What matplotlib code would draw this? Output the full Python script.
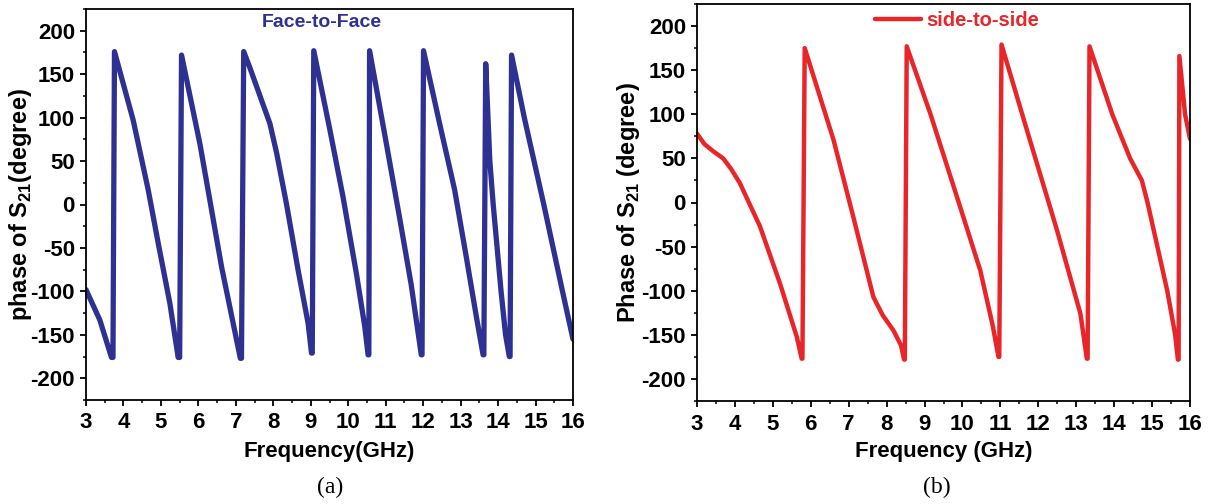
# phase of S21 for the two antenna arrangements: (a) face-to-face, (b) side-to-side
import matplotlib.pyplot as plt
from matplotlib.ticker import MultipleLocator

# (a) Face-to-Face
freq_a = [3.0, 3.37, 3.68, 3.72, 3.76, 4.26, 4.66, 4.93, 5.24, 5.46, 5.50,
          5.55, 6.04, 6.31, 6.62, 6.93, 7.12, 7.15,
          7.21, 7.37, 7.91, 8.09, 8.35, 8.66, 8.93, 9.02, 9.04,
          9.08, 9.51, 9.86, 10.22, 10.44, 10.53, 10.55,
          10.57, 11.01, 11.37, 11.68, 11.95, 11.97,
          12.01, 12.44, 12.84, 13.15, 13.42, 13.60, 13.62,
          13.67, 13.78, 13.87, 14.08, 14.20, 14.30, 14.32,
          14.36, 14.70, 15.22, 15.72, 16.0]
phase_a = [-98, -133, -176, -176, 176, 97, 17, -45, -114, -176, -176,
           172, 70, 4, -72, -137, -177, -177,
           176, 158, 93, 59, 1, -75, -137, -171, -171,
           177, 86, 9, -80, -140, -173, -173,
           177, 72, -15, -92, -173, -173,
           177, 93, 17, -60, -129, -173, -173,
           162, 50, 0, -100, -150, -175, -175,
           172, 100, 0, -100, -155]

# (b) side-to-side
freq_b = [3.0, 3.2, 3.43, 3.69, 3.9, 4.13, 4.66, 5.19, 5.63, 5.76, 5.78,
          5.84, 6.60, 7.12, 7.65, 7.90, 8.18, 8.38, 8.46, 8.48,
          8.53, 9.15, 9.85, 10.47, 10.80, 10.95, 10.97,
          11.03, 11.70, 12.49, 13.11, 13.28, 13.30,
          13.35, 13.95, 14.42, 14.73, 14.88, 15.14, 15.40, 15.61, 15.68, 15.70,
          15.72, 15.87, 16.0]
phase_b = [78, 66, 58, 50, 38, 22, -27, -92, -152, -177, -177,
           175, 71, -16, -107, -128, -145, -162, -178, -178,
           177, 101, 7, -77, -140, -175, -175,
           179, 82, -31, -126, -177, -177,
           177, 100, 50, 25, 0, -50, -100, -150, -178, -178,
           166, 100, 72]

blue = '#2E3192'
red = '#E8262A'

plt.rcParams['font.family'] = ['Liberation Sans', 'DejaVu Sans']
plt.rcParams['font.weight'] = 'bold'
plt.rcParams['axes.labelweight'] = 'bold'
plt.rcParams['axes.unicode_minus'] = False
plt.rcParams['mathtext.fontset'] = 'custom'
plt.rcParams['mathtext.rm'] = 'Liberation Sans:bold'
plt.rcParams['mathtext.bf'] = 'Liberation Sans:bold'

W, H = 1213, 504
fig = plt.figure(figsize=(W / 100, H / 100), dpi=100)
ax1 = fig.add_axes([86 / W, 1 - 400 / H, 487 / W, 391 / H])
ax2 = fig.add_axes([697 / W, 1 - 401 / H, 493 / W, 397 / H])

ax1.plot(freq_a, phase_a, color=blue, lw=3.8, solid_joinstyle='round', solid_capstyle='round')
ax2.plot(freq_b, phase_b, color=red, lw=3.2, solid_joinstyle='round', solid_capstyle='round',
         label='side-to-side')

for ax in (ax1, ax2):
    ax.set_xlim(3, 16)
    ax.set_ylim(-225, 225)
    ax.xaxis.set_major_locator(MultipleLocator(1))
    ax.xaxis.set_minor_locator(MultipleLocator(0.5))
    ax.yaxis.set_major_locator(MultipleLocator(50))
    ax.yaxis.set_minor_locator(MultipleLocator(25))
    ax.tick_params(which='major', direction='out', length=4, width=1.3, labelsize=16, pad=4)
    ax.tick_params(which='minor', direction='out', length=2.5, width=1.1)
    ax.tick_params(axis='x', which='major', pad=5)
    for s in ax.spines.values():
        s.set_linewidth(1.3)

ax1.set_xlabel('Frequency(GHz)', fontsize=16)
ax1.set_ylabel('phase of S$_{21}$(degree)', fontsize=17)
ax2.set_xlabel('Frequency (GHz)', fontsize=16)
ax2.set_ylabel('Phase of S$_{21}$ (degree)', fontsize=17)
ax1.xaxis.set_label_coords(0.5, -(452 - 400) / 391)
ax2.xaxis.set_label_coords(0.5, -(452 - 401) / 397)
ax1.yaxis.set_label_coords(-(86 - 21) / 487, 0.5)
ax2.yaxis.set_label_coords(-(697 - 629) / 493, 0.5)
for lab in (ax1.xaxis.label, ax2.xaxis.label, ax1.yaxis.label, ax2.yaxis.label):
    lab.set_va('center')

ax1.text(0.484, 0.965, 'Face-to-Face', transform=ax1.transAxes, color=blue,
         fontsize=14, fontweight='bold', ha='center', va='center')

ax2.legend(loc='center left', bbox_to_anchor=((875 - 697) / 493, (401 - 21) / 397),
           frameon=False, fontsize=14.5, handlelength=2.3, handletextpad=0.25,
           borderpad=0, borderaxespad=0, labelcolor=red)

fig.text(330 / W, 1 - 487 / H, '(a)', fontsize=17, family='Liberation Serif',
         fontweight='normal', ha='center', va='center')
fig.text(937 / W, 1 - 487 / H, '(b)', fontsize=17, family='Liberation Serif',
         fontweight='normal', ha='center', va='center')

fig.savefig('out.png', dpi=100)
